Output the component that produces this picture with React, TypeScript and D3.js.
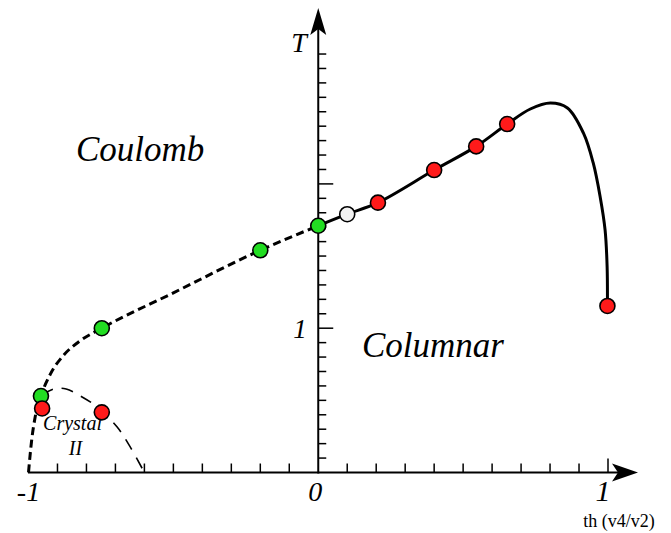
import React from "react";
import * as d3 from "d3";

// ---- data (th, T) ----
const greenPts: [number, number][] = [
  [-0.957, 0.53],
  [-0.747, 1.0],
  [-0.2, 1.54],
  [0.0, 1.71],
];
const whitePts: [number, number][] = [[0.1, 1.79]];
const redPts: [number, number][] = [
  [0.206, 1.87],
  [0.4, 2.096],
  [0.545, 2.26],
  [0.652, 2.415],
  [0.998, 1.154],
  [-0.953, 0.444],
  [-0.747, 0.417],
];
const solidCurve: [number, number][] = [
  [0.0, 1.71],
  [0.1, 1.79],
  [0.206, 1.87],
  [0.4, 2.096],
  [0.545, 2.26],
  [0.652, 2.415],
  [0.732, 2.519],
  [0.801, 2.56],
  [0.86, 2.526],
  [0.915, 2.353],
  [0.949, 2.145],
  [0.973, 1.91],
  [0.99, 1.68],
  [0.997, 1.424],
  [0.998, 1.154],
];
const dashedCurve: [number, number][] = [
  [-1.0, 0.0],
  [-0.989, 0.225],
  [-0.977, 0.385],
  [-0.957, 0.53],
  [-0.925, 0.68],
  [-0.88, 0.81],
  [-0.822, 0.912],
  [-0.747, 1.0],
  [-0.5, 1.245],
  [-0.2, 1.54],
  [0.0, 1.71],
];
const crystalCurve: [number, number][] = [
  [-0.953, 0.537],
  [-0.91, 0.58],
  [-0.87, 0.578],
  [-0.815, 0.523],
  [-0.763, 0.454],
  [-0.694, 0.315],
  [-0.649, 0.177],
  [-0.6, 0.0],
];
const xMinorTicks = [-0.9, -0.8, -0.7, -0.6, -0.5, -0.4, -0.3, -0.2, -0.1, 0.1, 0.2, 0.3, 0.4, 0.5, 0.6, 0.7, 0.8, 0.9];
const xMajorTicks = [1];
const yMinorTicks = d3.range(1, 30).map((i) => i / 10).filter((v) => Math.abs(v - 1) > 1e-6 && Math.abs(v - 2) > 1e-6);
const yMajorTicks = [1, 2];
const xTickLabels: { v: number; t: string; dx: number; size: number }[] = [
  { v: -1, t: "-1", dx: 0, size: 28 },
  { v: 0, t: "0", dx: -3, size: 28 },
  { v: 1, t: "1", dx: -5, size: 30 },
];

const W = 671;
const H = 533;

export default function App() {
  const x = d3.scaleLinear().domain([-1, 1]).range([28.5, 608]);
  const y = d3.scaleLinear().domain([0, 1]).range([472.5, 328.2]);
  const line = d3
    .line<[number, number]>()
    .x((d) => x(d[0]))
    .y((d) => y(d[1]))
    .curve(d3.curveCatmullRom.alpha(0.5));
  const lineMono = d3
    .line<[number, number]>()
    .x((d) => x(d[0]))
    .y((d) => y(d[1]))
    .curve(d3.curveMonotoneX);

  const x0 = x(0);
  const y0 = y(0);
  const serif = "'Liberation Serif', 'DejaVu Serif', serif";

  return (
    <svg
      width={W}
      height={H}
      style={{ position: "absolute", left: 0, top: 0, display: "block", background: "#fff" }}
    >
      {/* axes */}
      <line x1={x(-1) - 0.5} x2={630} y1={y0} y2={y0} stroke="#000" strokeWidth={2} />
      <line x1={x0} x2={x0} y1={y0 + 1} y2={18} stroke="#000" strokeWidth={2} />
      <path d={`M638,${y0} L612,${y0 - 9} L618,${y0} L612,${y0 + 9} Z`} fill="#000" />
      <path d={`M${x0},8 L${x0 + 8},35 L${x0},29 L${x0 - 8},35 Z`} fill="#000" />

      {/* ticks */}
      {xMinorTicks.map((v) => (
        <line key={"xm" + v} x1={x(v)} x2={x(v)} y1={y0} y2={y0 - 9} stroke="#000" strokeWidth={1.5} />
      ))}
      {xMajorTicks.map((v) => (
        <line key={"xM" + v} x1={x(v)} x2={x(v)} y1={y0} y2={y0 - 14} stroke="#000" strokeWidth={1.5} />
      ))}
      {yMinorTicks.map((v) => (
        <line key={"ym" + v} x1={x0} x2={x0 + 8} y1={y(v)} y2={y(v)} stroke="#000" strokeWidth={1.5} />
      ))}
      {yMajorTicks.map((v) => (
        <line key={"yM" + v} x1={x0} x2={x0 + 15} y1={y(v)} y2={y(v)} stroke="#000" strokeWidth={1.5} />
      ))}

      {/* tick labels */}
      {xTickLabels.map((d) => (
        <text
          key={"xl" + d.v}
          x={x(d.v) + d.dx}
          y={501}
          textAnchor="middle"
          fontFamily={serif}
          fontStyle="italic"
          fontSize={d.size}
        >
          {d.t}
        </text>
      ))}
      <text x={300} y={338} textAnchor="middle" fontFamily={serif} fontStyle="italic" fontSize={27}>
        1
      </text>
      <text x={299} y={52} textAnchor="middle" fontFamily={serif} fontStyle="italic" fontSize={28}>
        T
      </text>
      <text x={619} y={527} textAnchor="middle" fontFamily={serif} fontSize={18}>
        th (v4/v2)
      </text>

      {/* region labels */}
      <text x={76} y={161} fontFamily={serif} fontStyle="italic" fontSize={35}>
        Coulomb
      </text>
      <text x={362} y={357} fontFamily={serif} fontStyle="italic" fontSize={35}>
        Columnar
      </text>
      <text x={72.5} y={430} textAnchor="middle" fontFamily={serif} fontStyle="italic" fontSize={20}>
        Crystal
      </text>
      <text x={75.5} y={455} textAnchor="middle" fontFamily={serif} fontStyle="italic" fontSize={20}>
        II
      </text>

      {/* curves */}
      <path d={line(crystalCurve) || ""} fill="none" stroke="#000" strokeWidth={1.6} strokeDasharray="12 9" />
      <path d={lineMono(dashedCurve) || ""} fill="none" stroke="#000" strokeWidth={3} strokeDasharray="8 4.5" />
      <path d={line(solidCurve) || ""} fill="none" stroke="#000" strokeWidth={3} />

      {/* points */}
      {greenPts.map((d, i) => (
        <circle key={"g" + i} cx={x(d[0])} cy={y(d[1])} r={7.5} fill="#22dd22" stroke="#000" strokeWidth={1.6} />
      ))}
      {whitePts.map((d, i) => (
        <circle key={"w" + i} cx={x(d[0])} cy={y(d[1])} r={7.5} fill="#f2f2f2" stroke="#000" strokeWidth={1.6} />
      ))}
      {redPts.map((d, i) => (
        <circle key={"r" + i} cx={x(d[0])} cy={y(d[1])} r={7.5} fill="#ff1a1a" stroke="#000" strokeWidth={1.6} />
      ))}
    </svg>
  );
}
